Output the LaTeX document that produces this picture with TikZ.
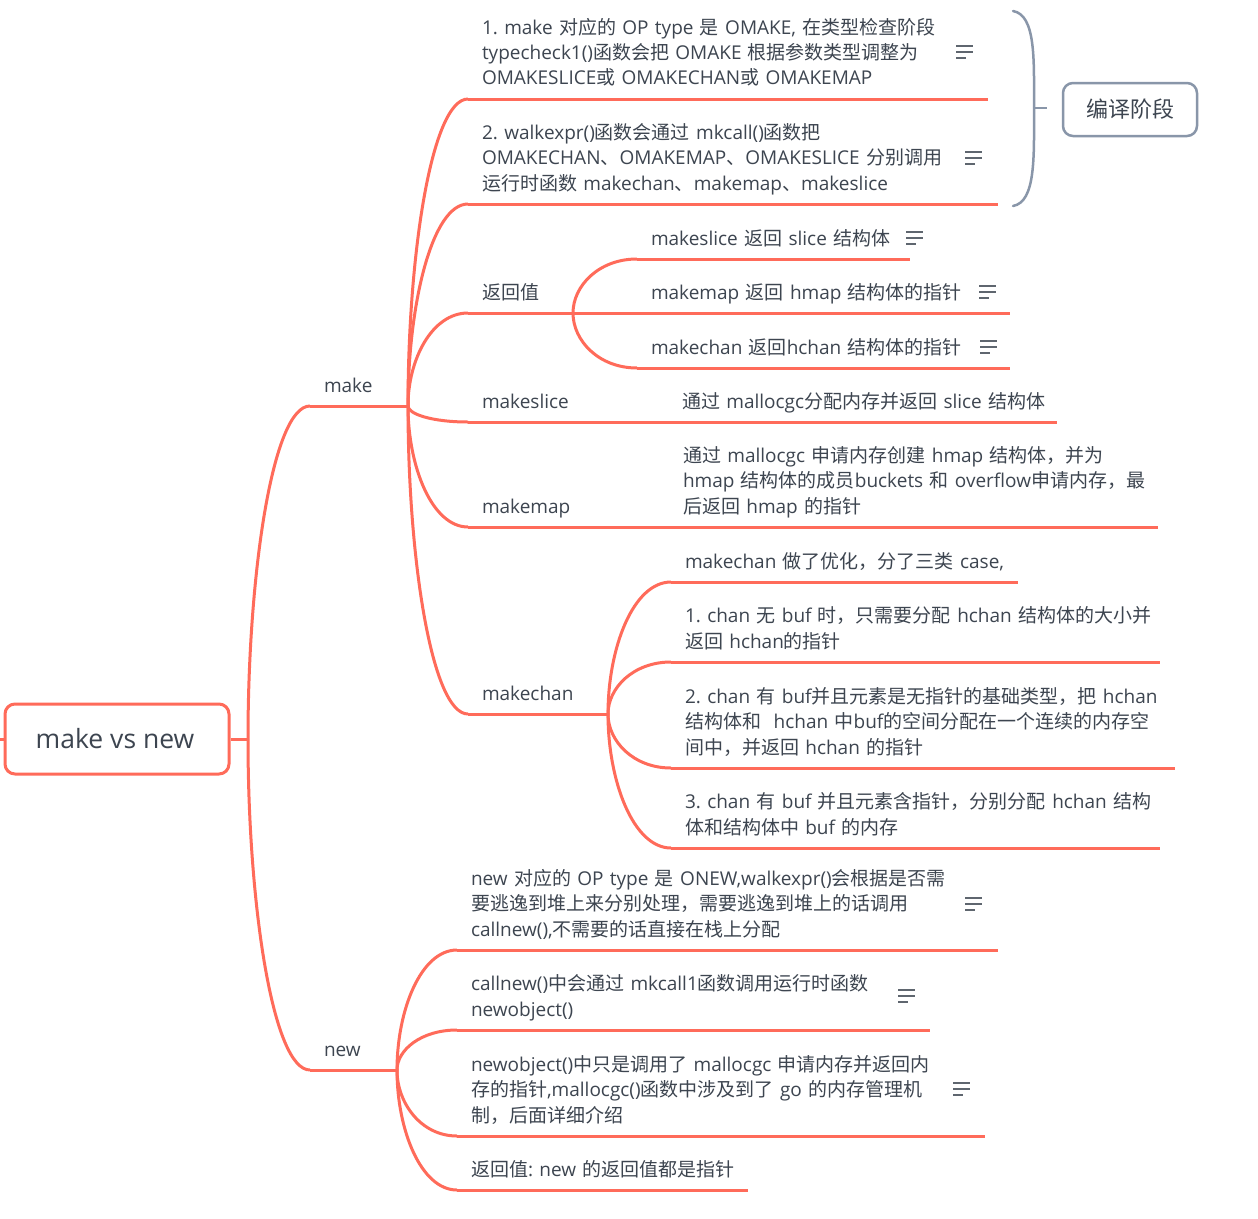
\documentclass[tikz,border=0pt]{standalone}
\usepackage{fontspec}
\usetikzlibrary{calc}
\setmainfont{Open Sans}
\newfontfamily\cjkfont{Noto Sans CJK SC}
\newcommand\latfont{\rmfamily}
\XeTeXinterchartokenstate=1
\newXeTeXintercharclass\cjkcls
\newcount\cjkc
\def\setcjkrange#1#2{\cjkc=#1\relax\loop\XeTeXcharclass\cjkc=\cjkcls\relax\ifnum\cjkc<#2\advance\cjkc by 1\relax\repeat}
\setcjkrange{"4E00}{"9FFF}
\setcjkrange{"3000}{"303F}
\setcjkrange{"FF00}{"FFEF}
\XeTeXinterchartoks 0 \cjkcls = {\cjkfont}
\XeTeXinterchartoks 4095 \cjkcls = {\cjkfont}
\XeTeXinterchartoks \cjkcls 0 = {\latfont}
\XeTeXinterchartoks \cjkcls 4095 = {\latfont}
\frenchspacing
\newcommand\oneline[1]{\mbox{#1}}
\definecolor{coral}{HTML}{FF6B5A}
\definecolor{txt}{HTML}{3D4550}
\definecolor{bracegrey}{HTML}{8996A9}
\definecolor{icongrey}{HTML}{5F666F}
\newcommand\bodyfont{\frenchspacing\fontsize{19}{25.5}\selectfont}
\tikzset{
  link/.style={draw=coral, line width=3pt},
  uline/.style={draw=coral, line width=3pt},
  topic/.style={anchor=south west, inner xsep=14pt, inner ysep=14pt, text depth=0pt,
    align=left, font=\bodyfont, text=txt, outer sep=0pt},
  two/.style={text depth=25.5pt},
  three/.style={text depth=51pt},
  curve/.style={to path={.. controls ($(\tikztostart)!0.5!(\tikztostart|-\tikztotarget)$)
    and ($(\tikztostart|-\tikztotarget)!0.4!(\tikztotarget)$) .. (\tikztotarget)}},
  rootbox/.style={draw=coral, line width=3pt, rounded corners=10pt, minimum width=224pt,
    minimum height=70pt, inner sep=0pt, font=\fontsize{26.5}{30}\selectfont, text=txt, fill=white},
  phasebox/.style={draw=bracegrey, line width=2.5pt, rounded corners=10pt, minimum width=134pt,
    minimum height=53pt, inner sep=0pt, font=\fontsize{22}{26}\selectfont, text=txt},
  noteline/.style={draw=icongrey, line width=2pt},
}
\newcommand\noteicon[2]{\draw[noteline] (#1,#2-6) -- ++(17,0) (#1,#2) -- ++(17,0) (#1,#2+6) -- ++(10,0);}
\begin{document}
\begin{tikzpicture}[x=1pt, y=-1pt]
\useasboundingbox (0,0) rectangle (1258,1218);
\fill[white] (0,0) rectangle (1258,1218);

% root
\node[rootbox] (root) at (117,739) {\hspace*{-4pt}make vs new};
\coordinate (stub) at (0,739);
\coordinate (trunk) at (248,739);
\draw[link] (stub) -- (root.west);
\draw[link] (root.east) -- (trunk);

% level 1
\node[topic, text width=70pt] (make) at (310,406) {make};
\node[topic, text width=59pt] (new) at (310,1070) {new};

% make children
\node[topic, three, text width=492pt] (m1) at (468,99) {\oneline{1. make 对应的 OP type 是 OMAKE, 在类型检查阶段}\\\oneline{typecheck1()函数会把 OMAKE 根据参数类型调整为}\\\oneline{OMAKESLICE或 OMAKECHAN或 OMAKEMAP}};
\node[topic, three, text width=502pt] (m2) at (468,204) {\oneline{2. walkexpr()函数会通过 mkcall()函数把}\\\oneline{OMAKECHAN、OMAKEMAP、OMAKESLICE 分别调用}\\\oneline{运行时函数 makechan、makemap、makeslice}};
\node[topic, text width=77pt] (m3) at (468,313) {返回值};
\node[topic, text width=245pt] (r1) at (637,259) {\oneline{makeslice 返回 slice 结构体}};
\node[topic, text width=345pt] (r2) at (637,313) {\oneline{makemap 返回 hmap 结构体的指针}};
\node[topic, text width=345pt] (r3) at (637,368) {\oneline{makechan 返回hchan 结构体的指针}};
\node[topic, text width=172pt] (m4) at (468,422) {makeslice};
\node[topic, text width=361pt] (s1) at (668,422) {\oneline{通过 mallocgc分配内存并返回 slice 结构体}};
\node[topic, text width=172pt] (m5) at (468,527) {makemap};
\node[topic, three, text width=461pt] (s2) at (669,527) {\oneline{通过 mallocgc 申请内存创建 hmap 结构体，并为}\\\oneline{hmap 结构体的成员buckets 和 overflow申请内存，最}\\\oneline{后返回 hmap 的指针}};
\node[topic, text width=112pt] (m6) at (468,714) {makechan};
\node[topic, text width=319pt] (c1) at (671,582) {\oneline{makechan 做了优化，分了三类 case,}};
\node[topic, two, text width=461pt] (c2) at (671,662) {\oneline{1. chan 无 buf 时，只需要分配 hchan 结构体的大小并}\\\oneline{返回 hchan的指针}};
\node[topic, three, text width=476pt] (c3) at (671,768) {\oneline{2. chan 有 buf并且元素是无指针的基础类型，把 hchan}\\\oneline{结构体和\ \ hchan 中buf的空间分配在一个连续的内存空}\\\oneline{间中，并返回 hchan 的指针}};
\node[topic, two, text width=461pt] (c4) at (671,848) {\oneline{3. chan 有 buf 并且元素含指针，分别分配 hchan 结构}\\\oneline{体和结构体中 buf 的内存}};

% new children
\node[topic, three, text width=513pt] (n1) at (457,950) {\oneline{new 对应的 OP type 是 ONEW,walkexpr()会根据是否需}\\\oneline{要逃逸到堆上来分别处理，需要逃逸到堆上的话调用}\\\oneline{callnew(),不需要的话直接在栈上分配}};
\node[topic, two, text width=445pt] (n2) at (457,1030) {\oneline{callnew()中会通过 mkcall1函数调用运行时函数}\\\oneline{newobject()}};
\node[topic, three, text width=500pt] (n3) at (457,1136) {\oneline{newobject()中只是调用了 mallocgc 申请内存并返回内}\\\oneline{存的指针,mallocgc()函数中涉及到了 go 的内存管理机}\\\oneline{制，后面详细介绍}};
\node[topic, text width=263pt] (n4) at (457,1190) {\oneline{返回值: new 的返回值都是指针}};

% underlines
\foreach \n in {make,new,m1,m2,m3,r1,r2,r3,m4,s1,m5,s2,m6,c1,c2,c3,c4,n1,n2,n3,n4}
  \draw[uline] (\n.south west) -- (\n.south east);

% connectors
\draw[link] (trunk) to[curve] (make.south west);
\draw[link] (trunk) to[curve] (new.south west);
\foreach \c in {m1,m2,m3,m4,m5,m6}
  \draw[link] (make.south east) to[curve] (\c.south west);
\foreach \c in {r1,r2,r3}
  \draw[link] (m3.south east) to[curve] (\c.south west);
\draw[link] (m4.south east) -- (s1.south west);
\draw[link] (m5.south east) -- (s2.south west);
\foreach \c in {c1,c2,c3,c4}
  \draw[link] (m6.south east) to[curve] (\c.south west);
\foreach \c in {n1,n2,n3,n4}
  \draw[link] (new.south east) to[curve] (\c.south west);

% note icons
\noteicon{956}{52}
\noteicon{965}{158}
\noteicon{906}{238}
\noteicon{979}{292}
\noteicon{980}{347}
\noteicon{965}{904}
\noteicon{898}{996}
\noteicon{953}{1089}

% summary brace
\coordinate (btop) at (1013,11);
\coordinate (btip) at (1034,108);
\coordinate (bbot) at (1013,206);
\coordinate (bstub) at (1047,108);
\draw[draw=bracegrey, line width=2.5pt, line cap=round] (btop) .. controls (1036,15) and (1034,60) .. (btip) .. controls (1034,156) and (1036,202) .. (bbot);
\draw[draw=bracegrey, line width=2.5pt] (btip) -- (bstub);
\node[phasebox] (phase) at (1130,109.5) {编译阶段};
\end{tikzpicture}
\end{document}
